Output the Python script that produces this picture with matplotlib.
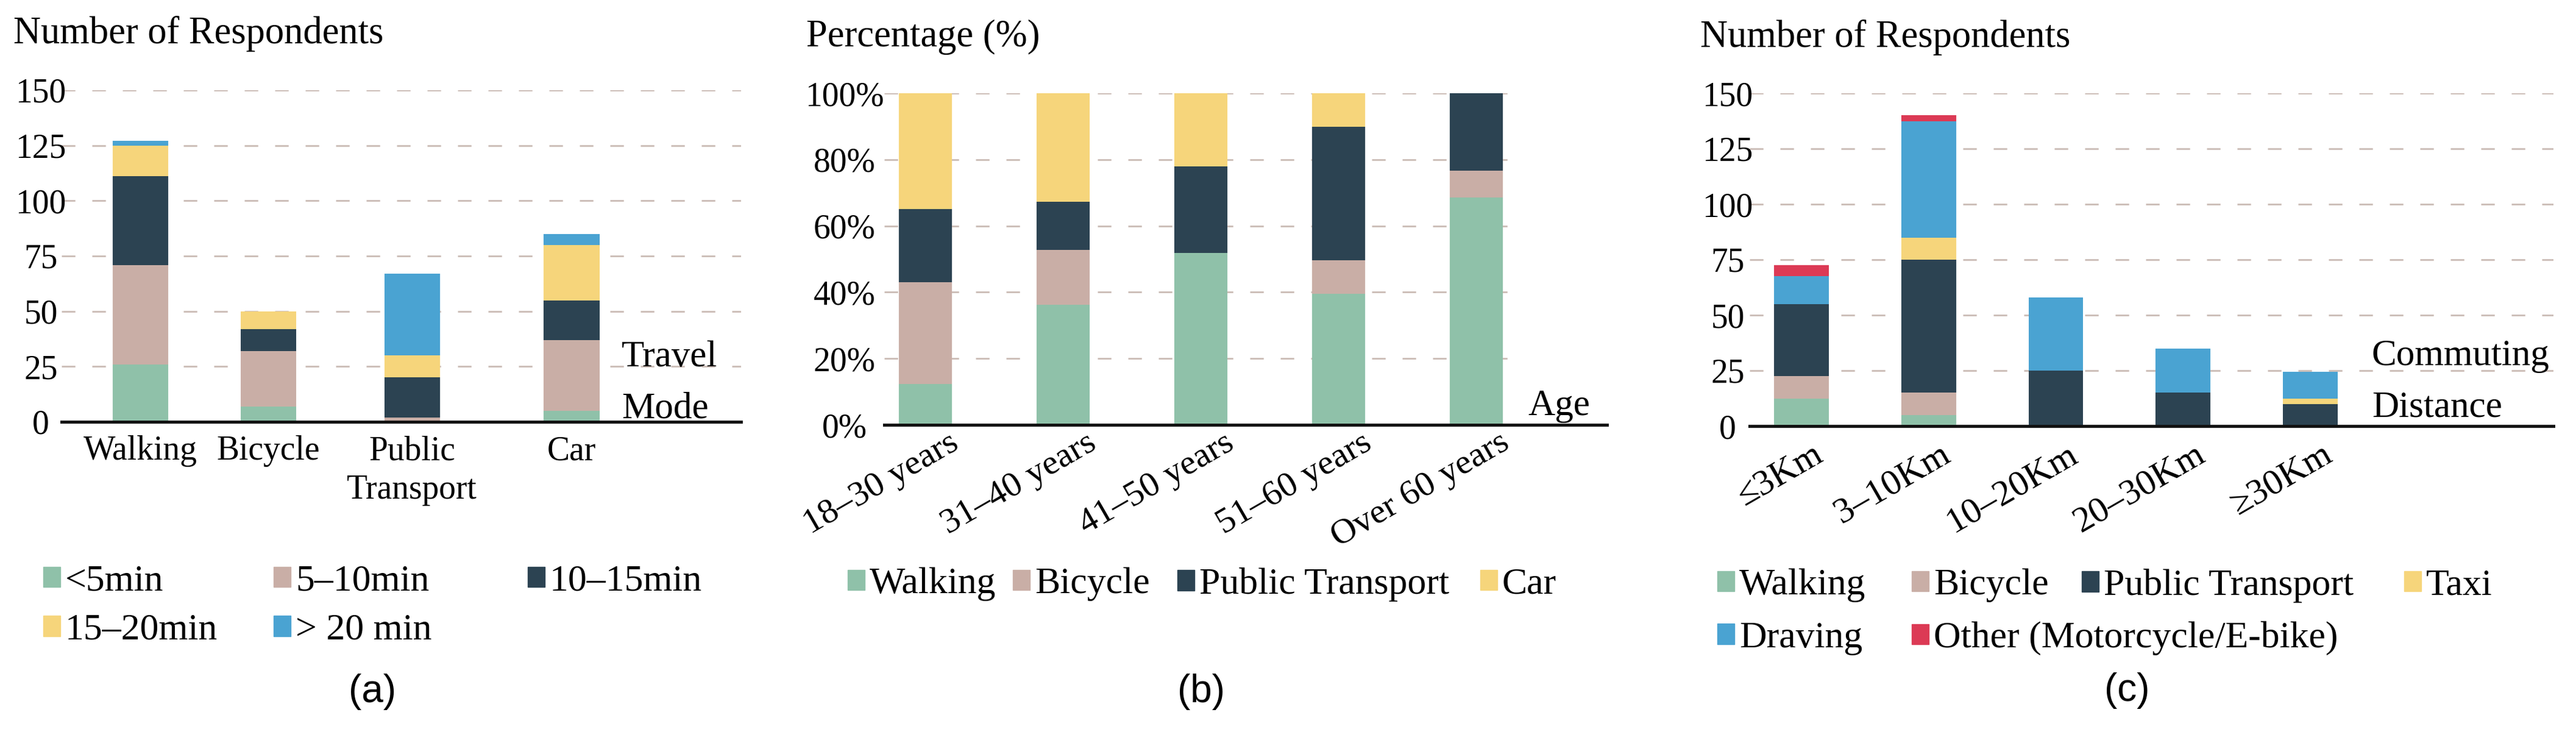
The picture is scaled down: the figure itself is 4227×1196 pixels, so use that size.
import matplotlib
matplotlib.use('Agg')
import matplotlib.pyplot as plt
import matplotlib.transforms as mtransforms
from matplotlib.patches import Patch
import numpy as np

plt.rcParams['font.family'] = ['Liberation Serif', 'DejaVu Serif']

# colours
GREEN = '#8fc1a9'
PINK = '#c9aea6'
NAVY = '#2c4352'
YELLOW = '#f6d57b'
BLUE = '#4aa3d2'
RED = '#dc3a55'
GRID = '#cbbcb6'

# (a) travel time by travel mode (number of respondents)
travel_modes = ['Walking', 'Bicycle', 'Public\nTransport', 'Car']
time_labels = ['<5min', '5–10min', '10–15min', '15–20min', '> 20 min']
under_5 = [26, 7, 0, 5]
min_5_10 = [45, 25, 2, 32]
min_10_15 = [40, 10, 18, 18]
min_15_20 = [14, 8, 10, 25]
over_20 = [2, 0, 37, 5]

# (b) travel mode by age (percentage)
age_groups = ['18–30 years', '31–40 years', '41–50 years', '51–60 years', 'Over 60 years']
age_modes = ['Walking', 'Bicycle', 'Public Transport', 'Car']
walk_pct = [12.3, 36.2, 51.9, 39.6, 68.6]
bike_pct = [30.7, 16.6, 0, 10.1, 8.1]
pt_pct = [22.0, 14.5, 26.0, 40.1, 23.3]
car_pct = [35.0, 32.7, 22.1, 10.2, 0]

# (c) travel mode by commuting distance (number of respondents)
distances = ['≤3Km', '3–10Km', '10–20Km', '20–30Km', '≥30Km']
dist_modes = ['Walking', 'Bicycle', 'Public Transport', 'Taxi', 'Draving', 'Other (Motorcycle/E-bike)']
walk_n = [12.5, 5, 0, 0, 0]
bike_n = [10, 10, 0, 0, 0]
pt_n = [32.5, 60, 25, 15, 10]
taxi_n = [0, 10, 0, 0, 2.5]
drive_n = [12.5, 52.5, 33, 20, 12]
other_n = [5, 2.5, 0, 0, 0]

# bar slots in panel (a) are not evenly spaced in the original
pos_a = np.array([0, 0.89, 1.89, 3.0])

W, H = 4227, 1196
fig = plt.figure(figsize=(W / 100, H / 100), dpi=100)


def px_axes(left, right, top, base):
    return fig.add_axes([left / W, 1 - base / H, (right - left) / W, (base - top) / H])


def stacked(ax, x, series, colors, width):
    bottom = np.zeros(len(x))
    for vals, c in zip(series, colors):
        ax.bar(x, vals, width, bottom=bottom, color=c, zorder=2, linewidth=0)
        bottom += np.array(vals, dtype=float)


def style(ax, yticks, ylabels, ypad, grid_end=None):
    for s in ['top', 'right', 'left']:
        ax.spines[s].set_visible(False)
    ax.spines['bottom'].set_linewidth(3.6)
    ax.spines['bottom'].set_color('#111111')
    ax.set_yticks(yticks)
    ax.set_yticklabels(ylabels)
    ax.tick_params(axis='both', length=0)
    ax.tick_params(axis='y', pad=ypad, labelsize=40)
    for lab in ax.get_yticklabels():
        lab.set_horizontalalignment('center')
    x0, x1 = ax.get_xlim()
    if grid_end is None:
        grid_end = x1
    ax.hlines(yticks[1:], x0, grid_end, colors=GRID, linestyles=(0, (8, 10)),
              linewidth=2, zorder=1)
    ax.set_xlim(x0, x1)


def shift_labels(ax, dx):
    off = mtransforms.ScaledTranslation(dx / 100, 0, fig.dpi_scale_trans)
    for lab in ax.get_xticklabels():
        lab.set_transform(lab.get_transform() + off)


def ftext(x, y, s, **kw):
    return fig.text(x / W, 1 - y / H, s, **kw)


def col_legend(handles, labels, x, y, spacing):
    fig.legend(handles, labels, loc='upper left', bbox_to_anchor=(x / W, 1 - y / H),
               ncol=1, frameon=False, fontsize=44.5, handlelength=0.46,
               handleheight=0.46, handletextpad=0.12, borderpad=0,
               borderaxespad=0, labelspacing=spacing)


LETTER = dict(family=['Liberation Sans', 'DejaVu Sans'], fontsize=46, ha='center', va='center')

# ---- (a)
ax1 = px_axes(101, 1216, 148, 692)
colors_a = [GREEN, PINK, NAVY, YELLOW, BLUE]
stacked(ax1, pos_a, [under_5, min_5_10, min_10_15, min_15_20, over_20], colors_a, 0.386)
ax1.set_ylim(0, 150)
ax1.set_xlim(-0.547, 4.178)
ax1.set_xticks(pos_a)
ax1.set_xticklabels(travel_modes, fontsize=40, linespacing=1.3)
style(ax1, [0, 25, 50, 75, 100, 125, 150], ['0', '25', '50', '75', '100', '125', '150'], 24.5)
ax1.tick_params(axis='x', pad=16)

ftext(22, 71, 'Number of Respondents', fontsize=45, va='baseline')
ftext(1020, 686, 'Travel\nMode', fontsize=44, va='baseline', linespacing=1.7)

h_a = [Patch(color=c) for c in colors_a]
col_legend([h_a[0], h_a[3]], [time_labels[0], time_labels[3]], 71, 926, 0.4)
col_legend([h_a[1], h_a[4]], [time_labels[1], time_labels[4]], 449, 926, 0.4)
col_legend([h_a[2]], [time_labels[2]], 866, 926, 0.4)
ftext(611, 1135, '(a)', **LETTER)

# ---- (b)
ax2 = px_axes(1451, 2637, 153, 697)
colors_b = [GREEN, PINK, NAVY, YELLOW]
x_b = np.arange(len(age_groups))
stacked(ax2, x_b, [walk_pct, bike_pct, pt_pct, car_pct], colors_b, 0.385)
ax2.set_ylim(0, 100)
ax2.set_xlim(-0.301, 4.952)
ax2.set_xticks(x_b)
ax2.set_xticklabels(age_groups, fontsize=42, rotation=30, ha='right', va='top',
                    rotation_mode='anchor')
style(ax2, [0, 20, 40, 60, 80, 100], ['0%', '20%', '40%', '60%', '80%', '100%'], 47, grid_end=4.32)
ax2.tick_params(axis='x', pad=2)
shift_labels(ax2, 37)

ftext(1323, 76, 'Percentage (%)', fontsize=45, va='baseline')
ftext(2507, 681, 'Age', fontsize=44, va='baseline')

h_b = [Patch(color=c) for c in colors_b]
for i, xl in enumerate([1391, 1662, 1932, 2429]):
    col_legend([h_b[i]], [age_modes[i]], xl, 931, 0.4)
ftext(1971, 1135, '(b)', **LETTER)

# ---- (c)
ax3 = px_axes(2871, 4190, 153, 699)
colors_c = [GREEN, PINK, NAVY, YELLOW, BLUE, RED]
x_c = np.arange(len(distances))
stacked(ax3, x_c, [walk_n, bike_n, pt_n, taxi_n, drive_n, other_n], colors_c, 0.431)
ax3.set_ylim(0, 150)
ax3.set_xlim(-0.407, 5.911)
ax3.set_xticks(x_c)
ax3.set_xticklabels(distances, fontsize=43, rotation=30, ha='right', va='top',
                    rotation_mode='anchor')
style(ax3, [0, 25, 50, 75, 100, 125, 150], ['0', '25', '50', '75', '100', '125', '150'], 26)
ax3.tick_params(axis='x', pad=14)
shift_labels(ax3, 18)

ftext(2790, 77, 'Number of Respondents', fontsize=45, va='baseline')
ftext(3892, 684, 'Commuting\nDistance', fontsize=44, va='baseline', linespacing=1.7)

h_c = [Patch(color=c) for c in colors_c]
col_legend([h_c[0], h_c[4]], [dist_modes[0], dist_modes[4]], 2818, 933, 0.5)
col_legend([h_c[1], h_c[5]], [dist_modes[1], dist_modes[5]], 3137, 933, 0.5)
col_legend([h_c[2]], [dist_modes[2]], 3416, 933, 0.5)
col_legend([h_c[3]], [dist_modes[3]], 3945, 933, 0.5)
ftext(3490, 1133, '(c)', **LETTER)

fig.savefig('out.png', dpi=100, facecolor='white')
